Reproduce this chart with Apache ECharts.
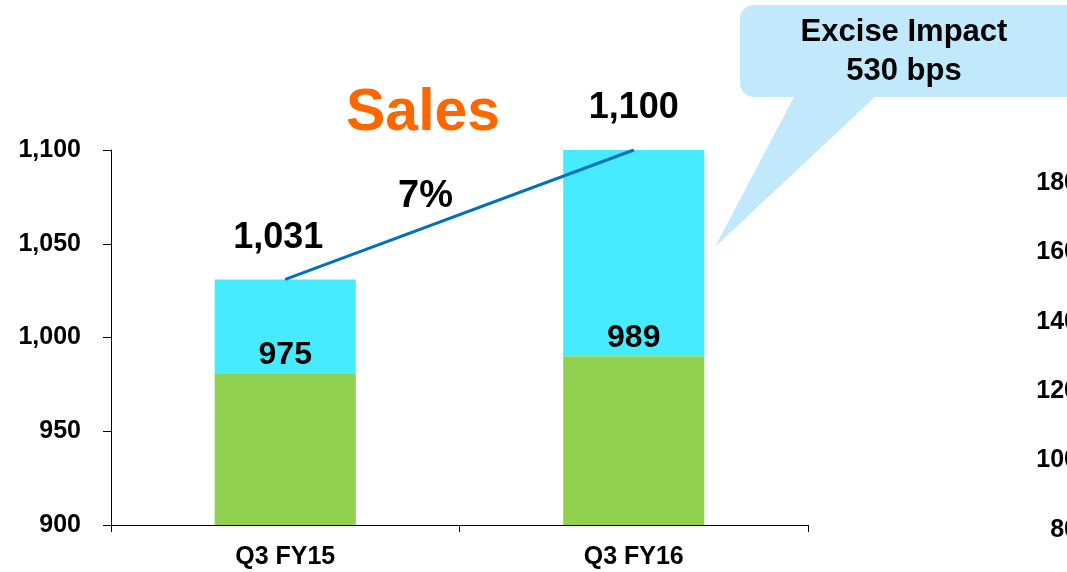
<!DOCTYPE html>
<html>
<head>
<meta charset="utf-8">
<script src="https://cdn.jsdelivr.net/npm/echarts@6/dist/echarts.min.js"></script>
<style>
  html, body { margin: 0; padding: 0; background: #fff; }
  #chart { width: 1067px; height: 572px; }
</style>
</head>
<body>
<div id="chart"></div>
<script>
// data
var categories = ['Q3 FY15', 'Q3 FY16']
var baseSales = [981, 990]          // green part
var totalSales = [1031, 1100]       // bar top / line points
var baseLabels = ['975', '989']
var totalLabels = ['1,031', '1,100']
var growthLabel = '7%'
var rightAxisMin = 80
var rightAxisMax = 180

var excise = totalSales.map(function (v, i) { return v - baseSales[i] })

var FONT = '"Liberation Sans", Arial, sans-serif'

const chart = echarts.init(document.getElementById('chart'))
var option = {
  animation: false,
  title: {
    text: 'Sales',
    left: 341,
    top: 79,
    textStyle: { color: '#FF6600', fontSize: 59, fontWeight: 'bold', fontFamily: FONT }
  },
  grid: [
    { left: 111, right: 259, top: 150, bottom: 47 },
    // second chart, only its axis labels peek in at the right edge
    { left: 1100, width: 200, top: 183, bottom: 42 }
  ],
  xAxis: [
    {
      type: 'category',
      gridIndex: 0,
      data: categories,
      axisLine: { lineStyle: { color: '#000', width: 1 } },
      axisTick: { show: true, length: 7, lineStyle: { color: '#000' } },
      axisLabel: { color: '#000', fontSize: 25, fontWeight: 'bold', fontFamily: FONT, margin: 20 }
    },
    { type: 'category', gridIndex: 1, data: categories, show: false }
  ],
  yAxis: [
    {
      type: 'value',
      gridIndex: 0,
      min: 900,
      max: 1100,
      interval: 50,
      splitLine: { show: false },
      axisLine: { show: true, lineStyle: { color: '#000', width: 1 } },
      axisTick: { show: true, length: 8, lineStyle: { color: '#000' } },
      axisLabel: {
        color: '#000', fontSize: 25, fontWeight: 'bold', fontFamily: FONT, margin: 30,
        formatter: function (v) { return v.toLocaleString('en-US') }
      }
    },
    {
      type: 'value',
      gridIndex: 1,
      min: rightAxisMin,
      max: rightAxisMax,
      interval: 20,
      splitLine: { show: false },
      axisLine: { show: false },
      axisTick: { show: false },
      axisLabel: { color: '#000', fontSize: 25, fontWeight: 'bold', fontFamily: FONT, margin: 22 }
    }
  ],
  series: [
    {
      name: 'base',
      type: 'bar',
      stack: 'sales',
      barWidth: '40.5%',
      data: baseSales,
      itemStyle: { color: '#92D050' },
      label: {
        show: true,
        position: 'top',
        distance: 2,
        color: '#000',
        fontSize: 32,
        fontWeight: 'bold',
        fontFamily: FONT,
        formatter: function (p) { return baseLabels[p.dataIndex] }
      },
      z: 3
    },
    {
      name: 'excise',
      type: 'bar',
      stack: 'sales',
      data: excise,
      itemStyle: { color: '#47EBFF' },
      z: 2
    },
    {
      name: 'total',
      type: 'line',
      // first label sits a little left of the point in the original
      data: totalSales.map(function (v, i) {
        return i === 0 ? { value: v, label: { offset: [-7, 0] } } : v
      }),
      symbol: 'circle',
      symbolSize: 1,
      itemStyle: { color: '#0070C0' },
      lineStyle: { color: '#0070C0', width: 3 },
      label: {
        show: true,
        position: 'top',
        distance: 23,
        color: '#000',
        fontSize: 36,
        fontWeight: 'bold',
        fontFamily: FONT,
        formatter: function (p) { return totalLabels[p.dataIndex] }
      },
      z: 4
    }
  ],
  graphic: [
    {
      type: 'text',
      left: 398,
      top: 178,
      style: { text: growthLabel, fill: '#000', font: 'bold 38px ' + FONT }
    },
    {
      type: 'polygon',
      shape: { points: [[795, 95], [877, 95], [715, 247]] },
      style: { fill: '#C1E8FB' },
      z: 10
    },
    {
      type: 'rect',
      shape: { x: 740, y: 5, width: 340, height: 92, r: 14 },
      style: { fill: '#C1E8FB' },
      z: 10
    },
    {
      type: 'text',
      x: 904,
      y: 52,
      style: {
        text: 'Excise Impact\n530 bps',
        fill: '#000',
        font: 'bold 31px ' + FONT,
        lineHeight: 39,
        align: 'center',
        verticalAlign: 'middle'
      },
      z: 11
    }
  ]
}

chart.setOption(option)
</script>
</body>
</html>
